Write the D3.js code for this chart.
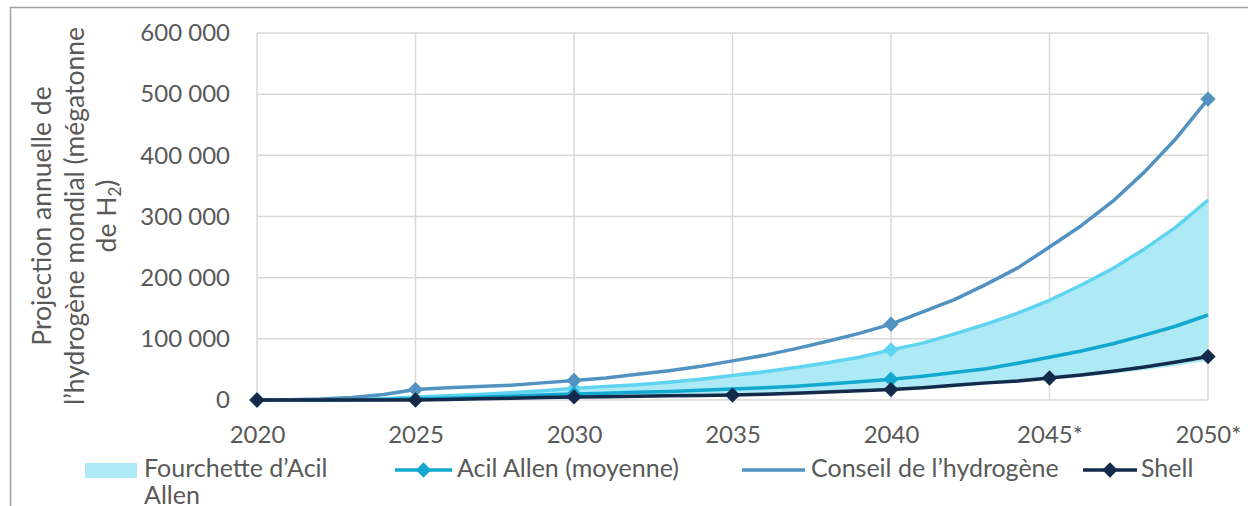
<!DOCTYPE html>
<html><head><meta charset="utf-8">
<script src="https://cdn.jsdelivr.net/npm/d3@7"></script>
<style>
html,body{margin:0;padding:0;background:#fff;}
svg{display:block;font-family:Lato,"Open Sans",sans-serif;}
</style></head>
<body>
<svg id="chart" width="1248" height="506"></svg>
<script>
const years = d3.range(2020, 2051);
const xTickYears = [2020, 2025, 2030, 2035, 2040, 2045, 2050];
const xTickLabels = ["2020", "2025", "2030", "2035", "2040", "2045*", "2050*"];
const yTicks = [0, 100000, 200000, 300000, 400000, 500000, 600000];

// Fourchette d'Acil Allen (range): lower and upper bounds
const acilLow = [0,0,0,0,0,0,500,1000,1500,2000,3000,3500,4000,5000,6000,7000,8500,10000,12000,13500,15000,18000,21000,25000,29000,33000,38000,43000,49000,56000,64000];
const acilHigh = [0,0,500,1000,2000,5000,7000,9000,12000,15000,19000,22000,25000,29000,34000,40000,46000,53000,61000,70000,82000,93000,108000,124000,142000,163000,188000,215000,247000,283000,327000];
const acilMean = [0,0,0,500,1000,2000,3000,4500,6000,8000,10000,11000,12500,14000,16000,18000,20000,22500,26000,30000,34000,39000,45000,51000,60000,70000,80000,92000,106000,121000,139000];
const conseil = [0,500,1500,4000,9000,17000,20000,22000,24000,28000,32000,36000,42000,48000,55000,64000,73000,84000,96000,109000,124000,144000,164000,189000,216000,250000,285000,325000,373000,428000,492000];
const shell = [0,0,0,0,0,0,1000,2000,3000,4000,5000,5500,6000,7000,7500,8000,9500,11000,13000,15000,17000,20000,24000,28000,31000,36000,41000,47000,54000,62000,71000];

const acilHighMarkers = [2030, 2040];
const acilMeanMarkers = [2030, 2040];
const conseilMarkers = [2020, 2025, 2030, 2040, 2050];
const shellMarkers = [2020, 2025, 2030, 2035, 2040, 2045, 2050];

const legendLabels = ["Fourchette d\u2019Acil", "Allen", "Acil Allen (moyenne)", "Conseil de l\u2019hydrog\u00e8ne", "Shell"];
const axisTitle = ["Projection annuelle de", "l\u2019hydrog\u00e8ne mondial (m\u00e9gatonne", "de H"];

const C = {fill:"#aee9f6", high:"#5fd4f0", mean:"#12a8cf", conseil:"#5192c1", shell:"#132a4b", grid:"#d9d9d9", text:"#595959"};

const svg = d3.select("#chart");
const x = d3.scaleLinear().domain([2020, 2050]).range([257, 1208]);
const y = d3.scaleLinear().domain([0, 600000]).range([400, 33]);

// outer frame
svg.append("rect").attr("x", 10.5).attr("y", 7.5).attr("width", 1400).attr("height", 700)
  .attr("fill", "none").attr("stroke", "#a0a0a0").attr("stroke-width", 1.5);

// grid
const g = svg.append("g");
g.selectAll(".hg").data(yTicks).join("line")
  .attr("x1", x(2020)).attr("x2", x(2050)).attr("y1", d => y(d)).attr("y2", d => y(d))
  .attr("stroke", C.grid).attr("stroke-width", 1.5);
g.selectAll(".vg").data(xTickYears).join("line")
  .attr("x1", d => x(d)).attr("x2", d => x(d)).attr("y1", y(600000)).attr("y2", y(0))
  .attr("stroke", C.grid).attr("stroke-width", 1.5);

// axes
const fmt = d3.formatLocale({decimal: ",", thousands: "\u00a0", grouping: [3], currency: ["", ""]}).format(",d");
const yAxis = svg.append("g").attr("transform", `translate(${x(2020)},0)`)
  .call(d3.axisLeft(y).tickValues(yTicks).tickFormat(fmt).tickSize(0).tickPadding(27));
yAxis.select(".domain").remove();
yAxis.selectAll("text").attr("fill", C.text).style("font-size", "24px").style("font-family", "Lato, sans-serif");

const xAxis = svg.append("g").attr("transform", `translate(0,${y(0)})`)
  .call(d3.axisBottom(x).tickValues(xTickYears).tickFormat((d, i) => xTickLabels[i]).tickSize(0).tickPadding(26));
xAxis.select(".domain").remove();
xAxis.selectAll("text").attr("fill", C.text).style("font-size", "24px").style("font-family", "Lato, sans-serif");

// area
const area = d3.area().x((d, i) => x(years[i])).y0((d, i) => y(acilLow[i])).y1((d, i) => y(acilHigh[i]));
svg.append("path").datum(acilHigh).attr("d", area).attr("fill", C.fill);

const line = d3.line().x((d, i) => x(years[i])).y(d => y(d));
const diamond = d3.symbol().type(d3.symbolDiamond2).size(150);
function series(vals, color, markers) {
  svg.append("path").datum(vals).attr("d", line).attr("fill", "none")
    .attr("stroke", color).attr("stroke-width", 3.5).attr("stroke-linejoin", "round");
  svg.append("g").selectAll("path").data(markers).join("path")
    .attr("d", diamond).attr("fill", color)
    .attr("transform", d => `translate(${x(d)},${y(vals[years.indexOf(d)])})`);
}
series(acilHigh, C.high, acilHighMarkers);
series(acilMean, C.mean, acilMeanMarkers);
series(conseil, C.conseil, conseilMarkers);
series(shell, C.shell, shellMarkers);

// y axis title
const t = svg.append("text").attr("transform", "translate(0,216) rotate(-90)")
  .attr("fill", C.text).style("font-size", "26.5px").attr("text-anchor", "middle");
t.append("tspan").attr("x", 0).attr("y", 51).text(axisTitle[0]);
t.append("tspan").attr("x", 0).attr("y", 84).text(axisTitle[1]);
t.append("tspan").attr("x", 0).attr("y", 116).text(axisTitle[2]);
t.append("tspan").attr("dy", 5).style("font-size", "17px").text("2");
t.append("tspan").attr("dy", -5).text(")");

// legend
const lg = svg.append("g").style("font-size", "25px").attr("fill", C.text);
lg.append("rect").attr("x", 85).attr("y", 463).attr("width", 52).attr("height", 15).attr("fill", C.fill);
lg.append("text").attr("x", 144).attr("y", 477).text(legendLabels[0]);
lg.append("text").attr("x", 144).attr("y", 504).text(legendLabels[1]);
function legItem(x0, x1, color, marker, label, tx) {
  lg.append("line").attr("x1", x0).attr("x2", x1).attr("y1", 470).attr("y2", 470)
    .attr("stroke", color).attr("stroke-width", 3.5);
  if (marker) lg.append("path").attr("d", diamond).attr("fill", color)
    .attr("transform", `translate(${(x0 + x1) / 2},470)`);
  lg.append("text").attr("x", tx).attr("y", 477).text(label);
}
legItem(395, 452, C.mean, true, legendLabels[2], 457);
legItem(742, 805, C.conseil, false, legendLabels[3], 811);
legItem(1083, 1137, C.shell, true, legendLabels[4], 1141);
</script>
</body></html>
